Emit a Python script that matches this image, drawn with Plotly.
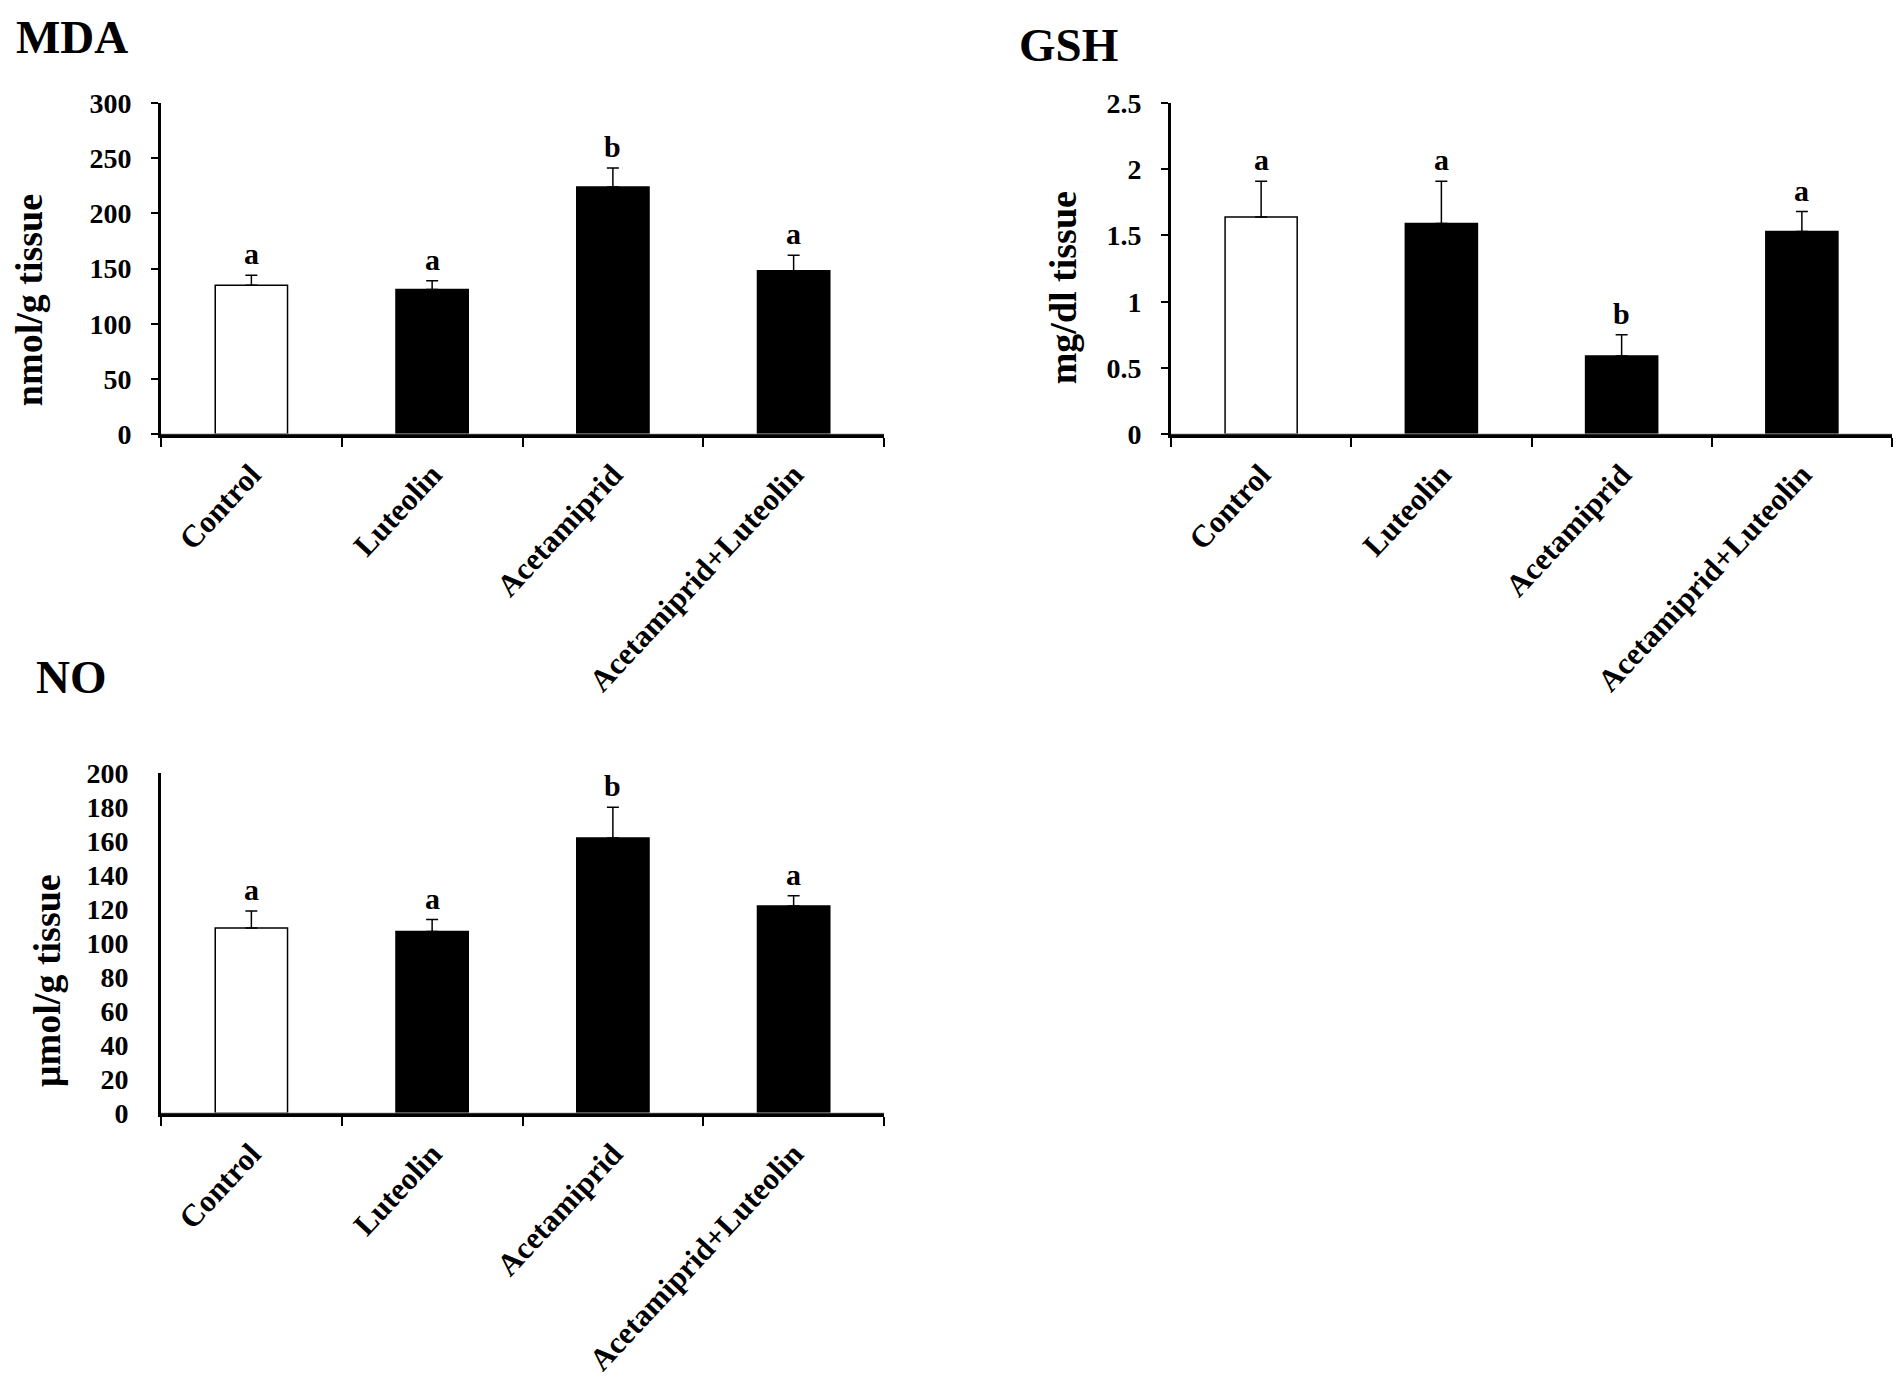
import plotly.graph_objects as go

# page body keeps its default 8px margin, so the figure is sized to fit the window
OFF = 8
W, H = 1901 - 2 * OFF, 1385 - 2 * OFF
# vertical correction measured from the previous screenshots
VS, VO = 0.97, 16.1

groups = ["Control", "Luteolin", "Acetamiprid", "Acetamiprid+Luteolin"]

mda_mean = [135, 131, 224, 148]
mda_sem = [9, 8, 17, 14]
mda_letters = ["a", "a", "b", "a"]

gsh_mean = [1.64, 1.59, 0.59, 1.53]
gsh_sem = [0.27, 0.32, 0.16, 0.15]
gsh_letters = ["a", "a", "b", "a"]

no_mean = [109, 107, 162, 122]
no_sem = [10, 7, 18, 6]
no_letters = ["a", "a", "b", "a"]

bar_colors = ["white", "black", "black", "black"]
FONT = "Liberation Serif"


def px_x(p):
    return min(1.0, max(0.0, (p - OFF) / W))


def px_y(p):
    p = (p - VO) / VS
    return min(1.0, max(0.0, 1 - (p - OFF) / H))


fig = go.Figure()

panels = [
    # name, mean, sem, letters, axis suffix, y range, dtick, x px, y px, y ticks
    ("MDA", mda_mean, mda_sem, mda_letters, "", [0, 300], 50, (161, 884), (105, 441), True),
    ("GSH", gsh_mean, gsh_sem, gsh_letters, "2", [0, 2.5], 0.5, (1171, 1892), (105, 441), True),
    ("NO", no_mean, no_sem, no_letters, "3", [0, 200], 20, (161, 884), (785, 1130), False),
]

annotations = []
for name, mean, sem, letters, sfx, yr, dt, xpx, ypx, yticks in panels:
    fig.add_trace(go.Bar(
        x=groups, y=mean, width=0.4,
        marker=dict(color=bar_colors, line=dict(color="black", width=1.5)),
        error_y=dict(type="data", array=sem, arrayminus=[0] * len(sem), symmetric=False,
                     color="black", thickness=1.5, width=6),
        xaxis="x" + sfx, yaxis="y" + sfx, showlegend=False,
    ))
    xa = dict(
        domain=[px_x(xpx[0]), px_x(xpx[1])], anchor="y" + sfx,
        type="category", range=[-0.5, 3.5], tickson="boundaries",
        showline=True, linecolor="black", linewidth=4,
        ticks="outside", ticklen=9, tickwidth=2, tickcolor="black",
        tickangle=-47, ticklabelstandoff=6,
        tickfont=dict(family=FONT, size=31, color="black", weight="bold"),
        showgrid=False, zeroline=False,
    )
    ya = dict(
        domain=[px_y(ypx[1]), px_y(ypx[0])], anchor="x" + sfx,
        range=yr, dtick=dt, showline=True, linecolor="black", linewidth=3,
        ticks="outside" if yticks else "", ticklen=7, tickwidth=2, tickcolor="black",
        ticklabelstandoff=14 if yticks else 24,
        tickfont=dict(family=FONT, size=28, color="black", weight="bold"),
        showgrid=False, zeroline=False,
    )
    fig.update_layout(**{"xaxis" + sfx: xa, "yaxis" + sfx: ya})
    # thin grey centre line of the double x axis
    fig.add_shape(type="line", xref="x%s domain" % sfx, yref="y" + sfx,
                  x0=0, x1=1, y0=0, y1=0, line=dict(color="#b5b5b5", width=1.5), layer="above")
    for g, m, s, lt in zip(groups, mean, sem, letters):
        annotations.append(dict(
            x=g, y=m + s, xref="x" + sfx, yref="y" + sfx, text=lt, showarrow=False,
            yanchor="bottom", yshift=3,
            font=dict(family=FONT, size=30, color="black", weight="bold"),
        ))

# panel titles (MDA pinned near the top edge so its glyphs stay inside)
title_font = dict(family=FONT, size=47, color="black", weight="bold")
annotations.append(dict(x=px_x(14), y=1, xref="paper", yref="paper", text="MDA",
                        showarrow=False, xanchor="left", yanchor="top", yshift=14,
                        font=title_font))
for txt, x, y in [("GSH", 1017, 46), ("NO", 34, 687)]:
    annotations.append(dict(
        x=px_x(x), y=px_y(y), xref="paper", yref="paper", text=txt, showarrow=False,
        xanchor="left", yanchor="middle", font=title_font,
    ))

# y axis titles
for txt, x, y in [("nmol/g tissue", 29, 305), ("mg/dl tissue", 1063, 293), ("µmol/g tissue", 47, 996)]:
    annotations.append(dict(
        x=px_x(x), y=px_y(y), xref="paper", yref="paper", text=txt, showarrow=False,
        textangle=-90, xanchor="center", yanchor="middle",
        font=dict(family=FONT, size=38, color="black", weight="bold"),
    ))

fig.update_layout(
    width=W, height=H, margin=dict(l=0, r=0, t=0, b=0),
    paper_bgcolor="white", plot_bgcolor="white",
    bargap=0.6, annotations=annotations,
)

fig.write_html("out.html")
